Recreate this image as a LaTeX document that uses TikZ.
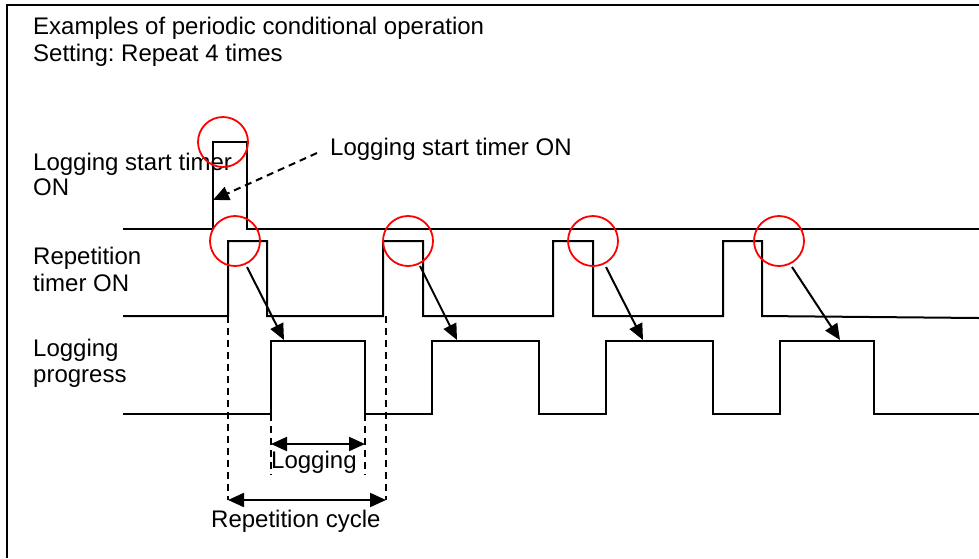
\documentclass[tikz,border=0pt]{standalone}
\usepackage{fontspec}
\setmainfont{Liberation Sans}
\usetikzlibrary{arrows.meta}
\frenchspacing
\begin{document}
\begin{tikzpicture}[x=1pt,y=-1pt,
  lbl/.style={anchor=base west,inner sep=0pt,font=\fontsize{24}{26}\selectfont},
  wave/.style={line width=2pt,line join=miter},
  ring/.style={draw=red,line width=1.8pt,circle,minimum size=50pt,inner sep=0pt},
  cause/.style={line width=2pt,-{Triangle[length=16pt,width=14pt]}},
  hint/.style={line width=2pt,dash pattern=on 7pt off 5pt,-{Triangle[length=16pt,width=14pt]}},
  guide/.style={line width=1.7pt,dash pattern=on 7pt off 5pt},
  span/.style={line width=2pt,{Triangle[length=16pt,width=14pt]}-{Triangle[length=16pt,width=14pt]}}]
\useasboundingbox (0,0) rectangle (979,558);
% frame
\draw[line width=1.5pt] (7,558) -- (7,5) -- (979,5);
% titles
\node[lbl] (t1) at (33,34) {Examples of periodic conditional operation};
\node[lbl] (t2) at (33,61) {Setting: Repeat 4 times};
\node[lbl] (l1a) at (33,170) {Logging start timer};
\node[lbl] (l1b) at (33,195) {ON};
\node[lbl] (l2a) at (33,264) {Repetition};
\node[lbl] (l2b) at (33,291) {timer ON};
\node[lbl] (l3a) at (33,356) {Logging};
\node[lbl] (l3b) at (33,382) {progress};
\node[lbl] (rl) at (330,155) {Logging start timer ON};
\node[lbl] (lg) at (271,468) {Logging};
\node[lbl] (rc) at (211,527) {Repetition cycle};
% waveforms
\draw[wave] (123,229) -- (213,229) -- (213,142) -- (247,142) -- (247,229) -- (979,229);
\draw[wave] (123,316) -- (228,316) -- (228,241) -- (267,241) -- (267,316)
  -- (383,316) -- (383,241) -- (423,241) -- (423,316)
  -- (553,316) -- (553,241) -- (593,241) -- (593,316)
  -- (723,316) -- (723,241) -- (762,241) -- (762,316) -- (979,318);
\draw[wave] (123,414) -- (271,414) -- (271,341) -- (365,341) -- (365,414)
  -- (432,414) -- (432,341) -- (539,341) -- (539,414)
  -- (606,414) -- (606,341) -- (713,341) -- (713,414)
  -- (780,414) -- (780,341) -- (874,341) -- (874,414) -- (979,414);
% red circles
\node[ring] (c0) at (223,142) {};
\node[ring] (c1) at (235,241) {};
\node[ring] (c2) at (408,241) {};
\node[ring] (c3) at (593,241) {};
\node[ring] (c4) at (779,241) {};
% arrow endpoints
\coordinate (s1) at (247,267); \coordinate (e1) at (284,340);
\coordinate (s2) at (420,266); \coordinate (e2) at (457,340);
\coordinate (s3) at (606,267); \coordinate (e3) at (643,340);
\coordinate (s4) at (792,267); \coordinate (e4) at (840,340);
\draw[cause] (s1) -- (e1);
\draw[cause] (s2) -- (e2);
\draw[cause] (s3) -- (e3);
\draw[cause] (s4) -- (e4);
% dashed pointer
\coordinate (ds) at (317,153); \coordinate (de) at (213,200);
\draw[hint] (ds) -- (de);
% guide lines
\coordinate (g1t) at (228,316); \coordinate (g1b) at (228,500);
\coordinate (g2t) at (386,316); \coordinate (g2b) at (386,500);
\coordinate (g3t) at (271,414); \coordinate (g3b) at (271,475);
\coordinate (g4t) at (365,414); \coordinate (g4b) at (365,475);
\draw[guide] (g1t) -- (g1b);
\draw[guide] (g2t) -- (g2b);
\draw[guide] (g3t) -- (g3b);
\draw[guide] (g4t) -- (g4b);
% spans
\coordinate (a1) at (271,444); \coordinate (a2) at (365,444);
\coordinate (b1) at (228,500); \coordinate (b2) at (386,500);
\draw[span] (a1) -- (a2);
\draw[span] (b1) -- (b2);
\end{tikzpicture}
\end{document}
